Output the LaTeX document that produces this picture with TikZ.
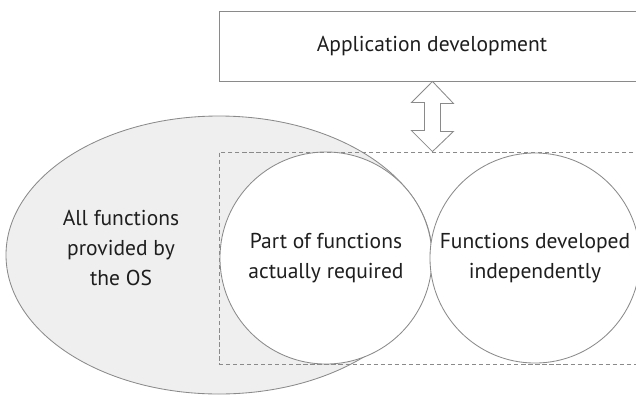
\documentclass[tikz,border=0pt]{standalone}
\usepackage{fontspec}
\setmainfont{PT Sans}
\usetikzlibrary{positioning,calc}

\definecolor{linegray}{HTML}{8A8A8A}
\definecolor{osfill}{HTML}{EFEFEF}
\definecolor{txtgray}{HTML}{1E1E1E}

\tikzset{
  greyline/.style={draw=linegray, line width=0.6pt},
  txtlook/.style={text=txtgray, align=center, font=\fontsize{15.3}{21.5}\selectfont},
  appbox/.style={greyline, rectangle, minimum width=10.65cm, minimum height=1.75cm, txtlook},
  funccircle/.style={greyline, circle, fill=white, minimum size=5.3cm, inner sep=0pt, txtlook},
  dashframe/.style={greyline, rectangle, dash pattern=on 3pt off 2pt}
}

\begin{document}
\begin{tikzpicture}[x=0.025cm, y=-0.025cm]
    \useasboundingbox (0,0) rectangle (636,395);
    \clip (0,0) rectangle (636,395);

    %os functions
    \draw[greyline, fill=osfill] (219,255) ellipse [x radius=213, y radius=139];
    \node[txtlook] (osall) at (121,248) {All functions\\provided by\\the OS};

    %application
    \node[appbox] (app) at (432,46) {Application development};

    %functions used
    \node[funccircle] (need) at (326,258) {Part of functions\\actually required};
    \node[funccircle, minimum size=5.25cm] (own) at (535,258) {Functions developed\\independently};

    \node[dashframe, minimum width=11.05cm, minimum height=5.3cm] (frame) at (440,258) {};

    %double arrow
    \coordinate (ha) at (app.south -| need.east);
    \coordinate (hb) at (frame.north -| need.east);
    \draw[greyline, fill=white] (ha) -- ++(21,22) -- ++(-13,0) -- ++(0,28) -- ++(13,0)
        -- (hb) -- ++(-21,-21) -- ++(13,0) -- ++(0,-28) -- ++(-13,0) -- cycle;
\end{tikzpicture}
\end{document}
